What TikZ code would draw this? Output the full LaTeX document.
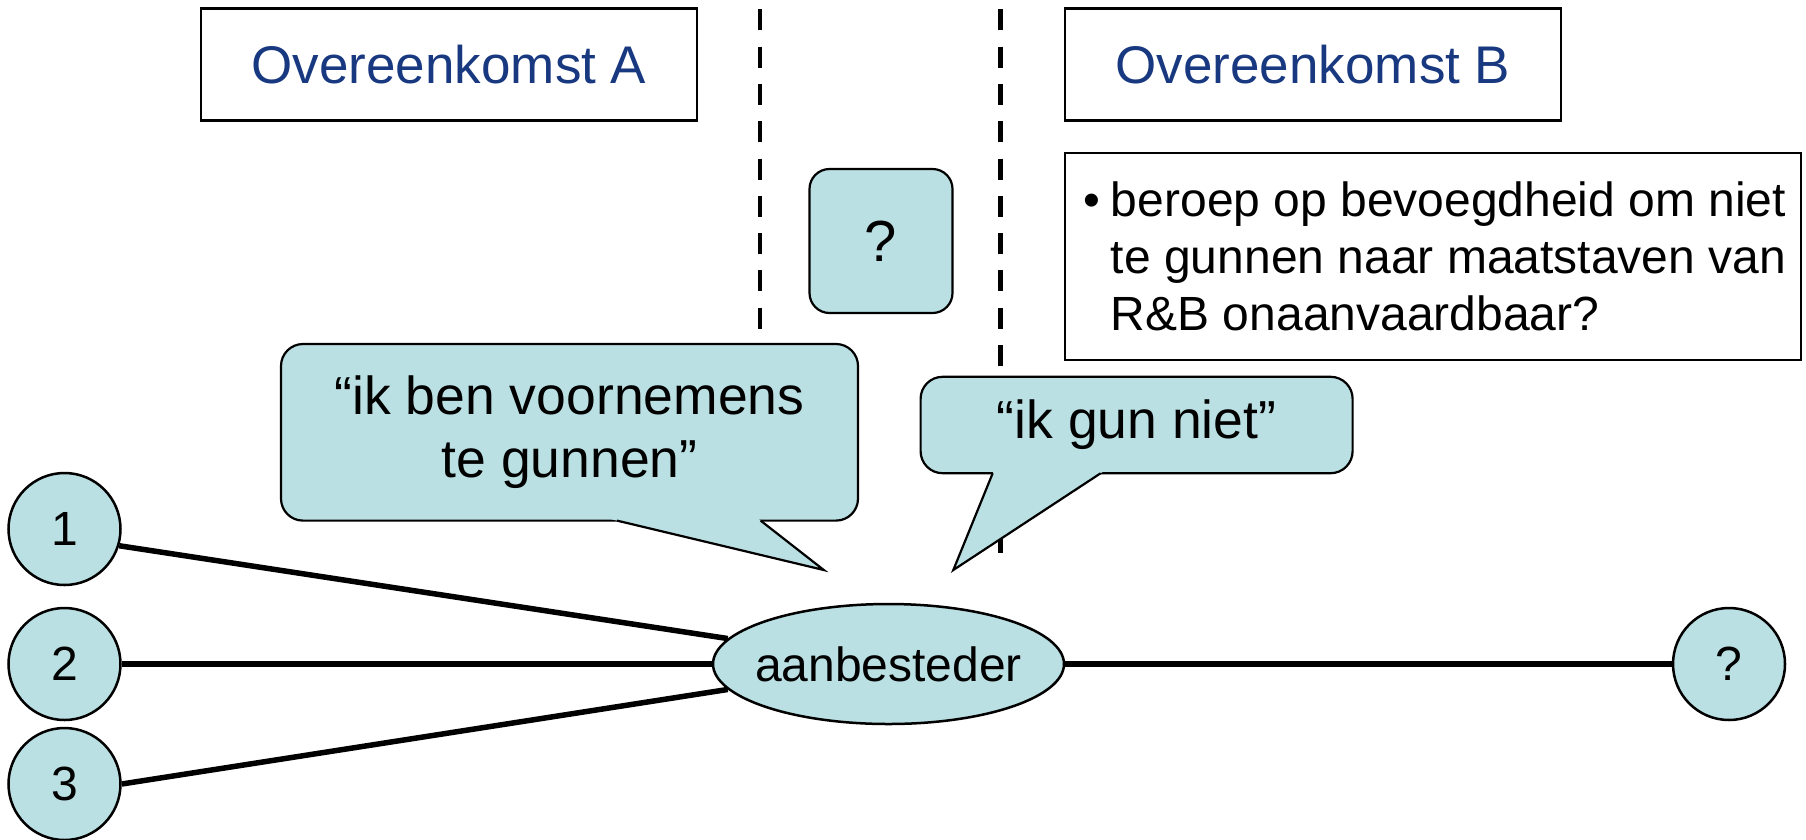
\documentclass[tikz,border=0pt]{standalone}
\usepackage{fontspec}
\setmainfont{Liberation Sans}
\usetikzlibrary{shapes.geometric,calc}
\definecolor{calfill}{RGB}{186,224,227}
\definecolor{headblue}{RGB}{24,56,128}
\begin{document}
\begin{tikzpicture}[x=1pt,y=-1pt,
  headfont/.style={font=\fontsize{53}{63.4}\selectfont},
  bigfont/.style={font=\fontsize{53.5}{63.4}\selectfont},
  midfont/.style={font=\fontsize{48}{57}\selectfont},
  headbox/.style={draw, line width=2.5pt, rectangle, minimum width=496pt, minimum height=112pt, inner sep=0pt, text=headblue, headfont},
  divider/.style={line width=4.5pt, dash pattern=on 21pt off 16.3pt},
  party/.style={circle, draw, line width=2.5pt, fill=calfill, minimum size=112pt, inner sep=0pt, midfont},
  hub/.style={ellipse, draw, line width=2.5pt, fill=calfill, minimum width=351pt, minimum height=120pt, inner sep=0pt, midfont},
  link/.style={line width=5.5pt},
  callbox/.style={rectangle, rounded corners=22pt, draw, line width=2.2pt, fill=calfill, inner sep=0pt, bigfont, align=center},
  calltip/.style={fill=calfill},
  calledge/.style={line width=2.2pt, line join=miter},
  notebox/.style={draw, line width=2.5pt, rectangle, inner sep=0pt},
]
\useasboundingbox (0,0) rectangle (1806,839);

% dashed dividers
\coordinate (d1top) at (760,9.3);
\coordinate (d1bot) at (760,329);
\coordinate (d2top) at (1000.5,9.3);
\coordinate (d2bot) at (1000.5,552.5);
\draw[divider] (d1top) -- (d1bot);
\draw[divider] (d2top) -- (d2bot);

% headings
\node[headbox] (agA) at (449,64.5) {Overeenkomst A};
\node[headbox] (agB) at (1313,64.5) {Overeenkomst B};

% question box
\node[callbox, rounded corners=20pt, minimum width=143pt, minimum height=144pt, font=\fontsize{58}{60}\selectfont] (qq) at (881,241) {?};

% criterion box
\node[notebox, minimum width=736pt, minimum height=207pt] (crit) at (1433,256.5) {};
\node[midfont, align=left, anchor=west, inner sep=0pt] (crittext) at ($(crit.west)+(47,0)$)
  {\llap{•\hspace{11pt}}beroep op bevoegdheid om niet\\te gunnen naar maatstaven van\\R\&B onaanvaardbaar?};

% callout 1
\node[callbox, minimum width=577pt, minimum height=176.6pt] (say1) at (569.5,432.3) {“ik ben voornemens\\te gunnen”};
\coordinate (t1a) at (617,520.6);
\coordinate (t1tip) at (823.8,570);
\coordinate (t1b) at (760.6,520.6);
\fill[calltip] ($(t1tip)!1.06!(t1a)$) -- (t1tip) -- ($(t1tip)!1.06!(t1b)$) -- cycle;
\draw[calledge] (t1a) -- (t1tip) -- (t1b);

% callout 2
\node[callbox, minimum width=432pt, minimum height=96.4pt] (say2) at (1136.6,425) {“ik gun niet”};
\coordinate (t2a) at (992.7,473.2);
\coordinate (t2tip) at (953.3,570);
\coordinate (t2b) at (1100.7,473.2);
\fill[calltip] ($(t2tip)!1.04!(t2a)$) -- (t2tip) -- ($(t2tip)!1.04!(t2b)$) -- cycle;
\draw[calledge] (t2a) -- (t2tip) -- (t2b);

% parties
\node[party] (p1) at (64.5,529) {1};
\node[party] (p2) at (64.5,664) {2};
\node[party] (p3) at (64.5,784) {3};
\node[party] (pq) at (1729,664) {?};
\node[hub] (aan) at (888.5,664) {\makebox[0pt]{aanbesteder}};

% connectors
\draw[link] (p1.-17) -- (aan.171);
\draw[link] (p2) -- (aan);
\draw[link] (p3.0) -- (aan.189);
\draw[link] (aan) -- (pq);
\end{tikzpicture}
\end{document}
